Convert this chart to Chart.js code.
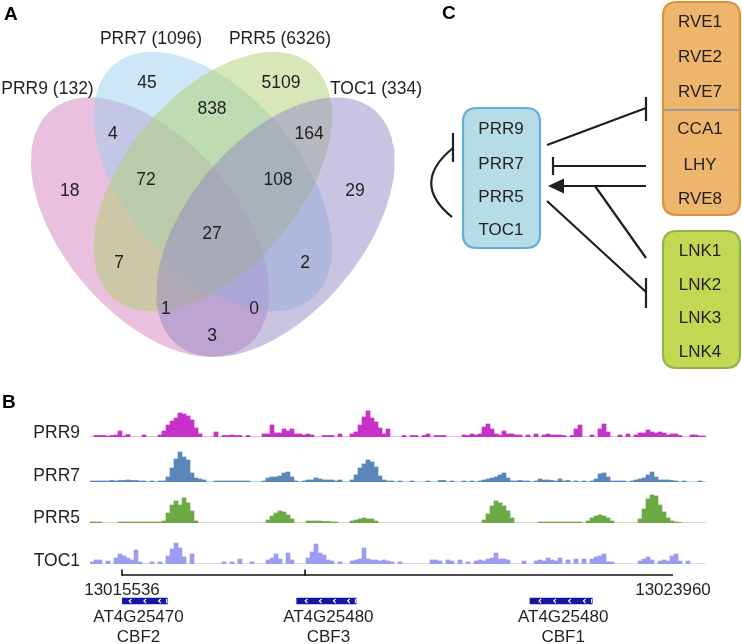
<!DOCTYPE html>
<html><head><meta charset="utf-8">
<script src="https://cdn.jsdelivr.net/npm/chart.js@4.4.0/dist/chart.umd.min.js"></script>
<style>
html,body{margin:0;padding:0;background:#fff;}
body{width:742px;height:644px;position:relative;overflow:hidden;}
canvas{position:absolute;}
</style></head><body>
<canvas id="venn" width="430" height="390" style="left:0;top:0"></canvas>
<canvas id="net" width="322" height="380" style="left:420px;top:0"></canvas>
<canvas id="t0" width="742" height="53" style="left:0;top:390px"></canvas>
<canvas id="t1" width="742" height="44" style="left:0;top:444px"></canvas>
<canvas id="t2" width="742" height="44" style="left:0;top:485px"></canvas>
<canvas id="t3" width="742" height="44" style="left:0;top:526px"></canvas>
<canvas id="genes" width="742" height="79" style="left:0;top:565px"></canvas>
<script>
// ---------------- DATA ----------------
const vennSets = ['PRR9', 'PRR7', 'PRR5', 'TOC1'];
const vennTotals = [132, 1096, 6326, 334];
const vennRegions = ['PRR9', 'PRR7', 'PRR5', 'TOC1', 'PRR9&PRR7', 'PRR7&PRR5', 'PRR5&TOC1',
  'PRR9&PRR7&PRR5', 'PRR7&PRR5&TOC1', 'ALL', 'PRR9&PRR5', 'PRR7&TOC1', 'PRR9&PRR5&TOC1', 'PRR9&PRR7&TOC1', 'PRR9&TOC1'];
const vennCounts = [18, 45, 5109, 29, 4, 838, 164, 72, 108, 27, 7, 2, 1, 0, 3];

const trackNames = ['PRR9', 'PRR7', 'PRR5', 'TOC1'];
const prr9Signal = [0,1.5,1.5,1.5,1,1.5,2,6,1,2.5, 0,0,0,2,0,0,0,2,6,12, 16,19,24,23,21,17,9,3,0,0,
  0,5,0,1.5,1.5,2,1.5,1.5,0,1.5, 0,0,0,3,3,12,4,4,8,6, 8,3,3,2,3,2,0,0,1.5,1.5,
  1.5,0,3,0,0,3,5,12,20,26, 19,15,9,3,8,0,0,0,1.5,0, 1.5,1.5,0,1.5,3,0,1.5,1.5,1.5,0,
  0,0,0,2,1.5,3,2,3,10,13, 8,3,2,6,3,3,2,2,0,2, 0,3,0,2,3,2,2,2,1.5,0,
  1.5,8,12,0,0,2,0,8,13,5, 0,0,2,0,3,0,2,4,4,7, 5,4,5,4,2,3,3,1.5,0,0, 2,2,1,1];
const prr7Signal = [1,1,1,1,1,1.5,1,1.5,1.5,2, 1.5,1.5,1,1,0,1,0,1,1,5, 14,23,30,25,22,9,4,3,2,0,
  0,1,1,1,1,1,1,1,1,1, 0,0,0,1,4,5,5,6,9,10, 5,1,0,1,2,2,4,3,2,2,
  2,1,2,0,0,2,7,14,18,22, 20,15,6,2,1,1,0,1,0,0, 1,0,0,0,1,0,0,1.5,1.5,0,
  1,0,0,1,0,1,0,1,2,3, 4,5,7,9,4,1,1,1.5,1,1, 0,1,3,2,2,1.5,1,3,1,1.5,
  0,1,0,1,0,1,3,8,9,5, 1,1,1,1,0,1,2,3,4,7, 10,5,2,2,2,1.5,1,0,1,0, 0,0,1,0];
const prr5Signal = [1,1,1,0,0,0,0,1,1,1, 1,1,1,1,1,1,1,1,2,10, 18,22,18,25,20,12,2,0,0,0,
  0,0,0,0,0,0,0,0,0,0, 0,0,0,0,3,7,10,12,11,8, 4,0,0,0,2,2,2,2,1.5,1.5,
  1,1,0,0,0,2,3,4,5,4, 4,2,0,0,0,0,0,0,0,0, 0,0,0,0,0,0,0,0,0,0,
  0,0,0,0,0,0,0,0,3,9, 17,22,20,17,12,5,0,0,0,0, 0,0,1,1,1,1,1,1,1,1,
  1,1,1,0,2,5,7,8,7,5, 2,0,0,0,0,0,0,4,14,24, 28,27,18,11,5,2,1,0.5,0,0, 0,0,0,0];
const toc1Signal = [2,4,4,0,3,0,6,10,8,6, 4,14,2,0,0,2,0,2,0,8, 15,21,16,7,0,10,0,0,0,0,
  0,0,0,2,0,2,0,5,0,0, 2,0,0,0,4,6,10,5,0,11, 4,0,0,0,6,12,20,11,9,4,
  3,0,2,0,0,3,4,5,16,5, 4,4,3,4,3,2,0,2,0,0, 0,0,0,0,0,4,4,3,0,4,
  3,0,4,0,2,0,3,4,3,5, 6,11,5,5,4,0,0,0,3,0, 0,3,4,3,6,4,3,6,0,4,
  0,5,0,5,0,5,7,8,10,2, 2,0,0,0,0,0,0,3,5,7, 4,0,3,4,3,8,10,3,0,3, 0,0,0,0];
const trackSignals = [prr9Signal, prr7Signal, prr5Signal, toc1Signal];
const trackBins = prr9Signal.map((_, i) => i);

const rulerLabels = ['13015536', '13023960'];
const rulerStart = 13015536, rulerEnd = 13023960, rulerMark = 13018334;
const geneIds = ['AT4G25470', 'AT4G25480', 'AT4G25480'];
const geneNames = ['CBF2', 'CBF3', 'CBF1'];
const geneStart = [13015287, 13018207, 13021774];
const geneEnd = [13016229, 13019114, 13022726];

const prrGroup = ['PRR9', 'PRR7', 'PRR5', 'TOC1'];
const rveGroup = ['RVE1', 'RVE2', 'RVE7', 'CCA1', 'LHY', 'RVE8'];
const lnkGroup = ['LNK1', 'LNK2', 'LNK3', 'LNK4'];

// ---------------- LAYOUT / STYLE ----------------
const FONT = "'Liberation Sans', Arial, Helvetica, sans-serif";
Chart.defaults.font.family = FONT;
Chart.defaults.animation = false;
Chart.defaults.responsive = false;
Chart.defaults.plugins.legend.display = false;
Chart.defaults.plugins.tooltip.enabled = false;

function txt(ctx, s, x, cy, size, align, bold, color) {
  ctx.save();
  ctx.font = (bold ? 'bold ' : '') + size + 'px ' + FONT;
  ctx.fillStyle = color || '#231f20';
  ctx.textAlign = align || 'center';
  ctx.textBaseline = 'alphabetic';
  ctx.fillText(s, x, cy + 0.358 * size);
  ctx.restore();
}

// Venn ellipse geometry (unit square)
const ellCenters = [[0.35, 0.47], [0.5, 0.57], [0.5, 0.57], [0.65, 0.47]];
const ellA = 0.35, ellB = 0.2;
const ellRot = [135, 135, 45, 45];
const ellColors = ['rgba(212,130,190,0.5)', 'rgba(158,207,238,0.5)', 'rgba(176,208,112,0.5)', 'rgba(148,138,198,0.5)'];
const countPos = [[0.158,0.5516],[0.3426,0.789],[0.6632,0.789],[0.840,0.5516],[0.2612,0.6769],[0.4981,0.7319],
  [0.7302,0.6769],[0.3402,0.5758],[0.656,0.5758],[0.4981,0.4571],[0.2756,0.3934],[0.7206,0.3934],
  [0.388,0.2923],[0.5986,0.2923],[0.4981,0.233]];
const setLabelPx = [[47.5, 88], [151, 38], [280, 38], [376, 88]];

function ellipsePts(c, a, b, rotDeg, n) {
  const r = rotDeg * Math.PI / 180, pts = [];
  for (let i = 0; i <= n; i++) {
    const t = 2 * Math.PI * i / n;
    pts.push({x: c[0] + a * Math.cos(t) * Math.cos(r) - b * Math.sin(t) * Math.sin(r),
              y: c[1] + a * Math.cos(t) * Math.sin(r) + b * Math.sin(t) * Math.cos(r)});
  }
  return pts;
}

const vennLabels = {
  id: 'vennLabels',
  afterDatasetsDraw(chart) {
    const ctx = chart.ctx, xs = chart.scales.x, ys = chart.scales.y;
    vennCounts.forEach((v, i) => txt(ctx, String(v), xs.getPixelForValue(countPos[i][0]), ys.getPixelForValue(countPos[i][1]), 17.5));
    vennSets.forEach((s, i) => txt(ctx, s + ' (' + vennTotals[i] + ')', setLabelPx[i][0], setLabelPx[i][1], 17.5));
    txt(ctx, 'A', 4, 13.5, 19, 'left', true, '#000');
  }
};

new Chart(document.getElementById('venn'), {
  type: 'line',
  data: {
    datasets: [3, 2, 1, 0].map(k => ({
      label: vennSets[k],
      data: ellipsePts(ellCenters[k], ellA, ellB, ellRot[k], 180),
      fill: 'shape', backgroundColor: ellColors[k], borderColor: 'rgba(0,0,0,0)', borderWidth: 0,
      pointRadius: 0, tension: 0
    }))
  },
  options: {
    layout: {padding: {left: 3.8, right: 8.2, top: 8.75, bottom: 3.6}},
    scales: {x: {type: 'linear', min: 0, max: 1, display: false}, y: {type: 'linear', min: 0.12, max: 0.95, display: false}}
  },
  plugins: [vennLabels]
});

// ---------------- Panel C network ----------------
const netBoxes = [
  {x: 463, y: 108, w: 77, h: 140, fill: '#B6DCE6', stroke: '#64AED6', items: prrGroup, ys: [128, 163, 196, 229], cx: 501},
  {x: 663, y: 2, w: 77, h: 213, fill: '#EDB66C', stroke: '#E1913A', items: rveGroup, ys: [21, 56, 91, 128, 164, 198], cx: 700},
  {x: 663, y: 231, w: 77, h: 137, fill: '#C4D753', stroke: '#8DB646', items: lnkGroup, ys: [250, 284, 317, 351], cx: 700}
];
const netPlugin = {
  id: 'net',
  afterDraw(chart) {
    const ctx = chart.ctx, xs = chart.scales.x, ys = chart.scales.y;
    const X = v => xs.getPixelForValue(v), Y = v => ys.getPixelForValue(v);
    ctx.save();
    netBoxes.forEach(b => {
      const r = 14, x0 = X(b.x), y0 = Y(b.y), x1 = X(b.x + b.w), y1 = Y(b.y + b.h);
      ctx.beginPath();
      ctx.moveTo(x0 + r, y0); ctx.lineTo(x1 - r, y0); ctx.quadraticCurveTo(x1, y0, x1, y0 + r);
      ctx.lineTo(x1, y1 - r); ctx.quadraticCurveTo(x1, y1, x1 - r, y1); ctx.lineTo(x0 + r, y1);
      ctx.quadraticCurveTo(x0, y1, x0, y1 - r); ctx.lineTo(x0, y0 + r); ctx.quadraticCurveTo(x0, y0, x0 + r, y0);
      ctx.closePath();
      ctx.fillStyle = b.fill; ctx.fill();
      ctx.lineWidth = 2.2; ctx.strokeStyle = b.stroke; ctx.stroke();
      b.items.forEach((s, i) => txt(ctx, s, X(b.cx), Y(b.ys[i]), 17, 'center', false, '#231f20'));
    });
    ctx.strokeStyle = '#9a9a9a'; ctx.lineWidth = 2;
    ctx.beginPath(); ctx.moveTo(X(664), Y(110)); ctx.lineTo(X(739), Y(110)); ctx.stroke();
    ctx.strokeStyle = '#1f1f1f'; ctx.fillStyle = '#1f1f1f'; ctx.lineWidth = 2.2; ctx.lineCap = 'butt';
    const seg = (a, b, c, d) => { ctx.beginPath(); ctx.moveTo(X(a), Y(b)); ctx.lineTo(X(c), Y(d)); ctx.stroke(); };
    seg(547, 145, 646, 108); seg(646, 97, 646, 121);
    seg(553, 166, 646, 166); seg(553, 157, 553, 175);
    seg(560, 186, 646, 186);
    ctx.beginPath(); ctx.moveTo(X(548), Y(186)); ctx.lineTo(X(564), Y(178.5)); ctx.lineTo(X(564), Y(193.5)); ctx.closePath(); ctx.fill();
    seg(646, 258, 595, 186);
    seg(547, 201, 646, 292); seg(646, 278, 646, 308);
    ctx.beginPath(); ctx.moveTo(X(452), Y(217)); ctx.quadraticCurveTo(X(410), Y(183), X(453), Y(148)); ctx.stroke();
    seg(453, 133, 453, 162);
    txt(ctx, 'C', X(442), Y(12.5), 19, 'left', true, '#000');
    ctx.restore();
  }
};
new Chart(document.getElementById('net'), {
  type: 'line',
  data: {datasets: []},
  options: {scales: {x: {type: 'linear', min: 420, max: 742, display: false}, y: {type: 'linear', min: 0, max: 380, reverse: true, display: false}}},
  plugins: [netPlugin]
});

// ---------------- Panel B tracks ----------------
const trackColors = ['#C731C9', '#5B86B9', '#6CAA46', '#9C9CF0'];
const trackTops = [390, 444, 485, 526];
const trackPadTop = [15, 6, 6, 6];
const trackLabelY = [431.5, 475, 516.5, 559.5];
trackNames.forEach((name, k) => {
  const lab = {
    id: 'lab' + k,
    afterDraw(chart) {
      const ctx = chart.ctx;
      txt(ctx, name, 80, trackLabelY[k] - trackTops[k], 17.5, 'right', false, '#231f20');
      if (k === 0) txt(ctx, 'B', 2, 401.5 - trackTops[k], 19, 'left', true, '#000');
    }
  };
  new Chart(document.getElementById('t' + k), {
    type: 'bar',
    data: {labels: trackBins, datasets: [{label: name, data: trackSignals[k], backgroundColor: trackColors[k], borderWidth: 0, barPercentage: 1, categoryPercentage: 1}]},
    options: {
      layout: {padding: {left: 90, right: 36, top: trackPadTop[k], bottom: 6}},
      scales: {x: {display: false}, y: {display: false, min: 0, max: 32}}
    },
    plugins: [lab]
  });
});

// ---------------- Panel B genes / ruler ----------------
const genePlugin = {
  id: 'genes',
  afterDraw(chart) {
    const ctx = chart.ctx, xs = chart.scales.x;
    const yBar = (chart.chartArea.top + chart.chartArea.bottom) / 2;
    ctx.save();
    ctx.strokeStyle = '#111'; ctx.lineWidth = 1.6;
    const xr0 = xs.getPixelForValue(rulerStart), xr1 = xs.getPixelForValue(rulerEnd), xm = xs.getPixelForValue(rulerMark);
    ctx.beginPath(); ctx.moveTo(xr0, 10); ctx.lineTo(xr1, 10); ctx.stroke();
    ctx.beginPath(); ctx.moveTo(xr0, 4.5); ctx.lineTo(xr0, 10.8); ctx.moveTo(xm, 4.5); ctx.lineTo(xm, 10.8); ctx.stroke();
    txt(ctx, rulerLabels[0], xr0, 24, 17, 'center', false, '#231f20');
    txt(ctx, rulerLabels[1], xr1, 24, 17, 'center', false, '#231f20');
    geneStart.forEach((s, i) => {
      const a = xs.getPixelForValue(s), b = xs.getPixelForValue(geneEnd[i]);
      ctx.strokeStyle = '#ffffff'; ctx.lineWidth = 1.1;
      for (let j = 0; j < 4; j++) {
        const cx = a + (b - a) * (j + 0.6) / 4.2 + 1;
        ctx.beginPath(); ctx.moveTo(cx + 1.2, yBar - 2); ctx.lineTo(cx - 1, yBar); ctx.lineTo(cx + 1.2, yBar + 2); ctx.stroke();
      }
      ctx.fillStyle = '#ffffff'; ctx.fillRect(b - 1.2, yBar - 2, 1, 4);
      const c = (a + b) / 2 + 2;
      txt(ctx, geneIds[i], c, 51, 17, 'center', false, '#231f20');
      txt(ctx, geneNames[i], c, 71, 17, 'center', false, '#231f20');
    });
    ctx.restore();
  }
};
new Chart(document.getElementById('genes'), {
  type: 'bar',
  data: {
    labels: ['genes'],
    datasets: geneNames.map((n, i) => ({label: n, data: [[geneStart[i], geneEnd[i]]], backgroundColor: '#1616A3', borderWidth: 0, barThickness: 6, grouped: false}))
  },
  options: {
    indexAxis: 'y',
    layout: {padding: {left: 122, right: 69, top: 30, bottom: 37}},
    scales: {x: {type: 'linear', min: rulerStart, max: rulerEnd, display: false}, y: {display: false}}
  },
  plugins: [genePlugin]
});
</script>
</body></html>
